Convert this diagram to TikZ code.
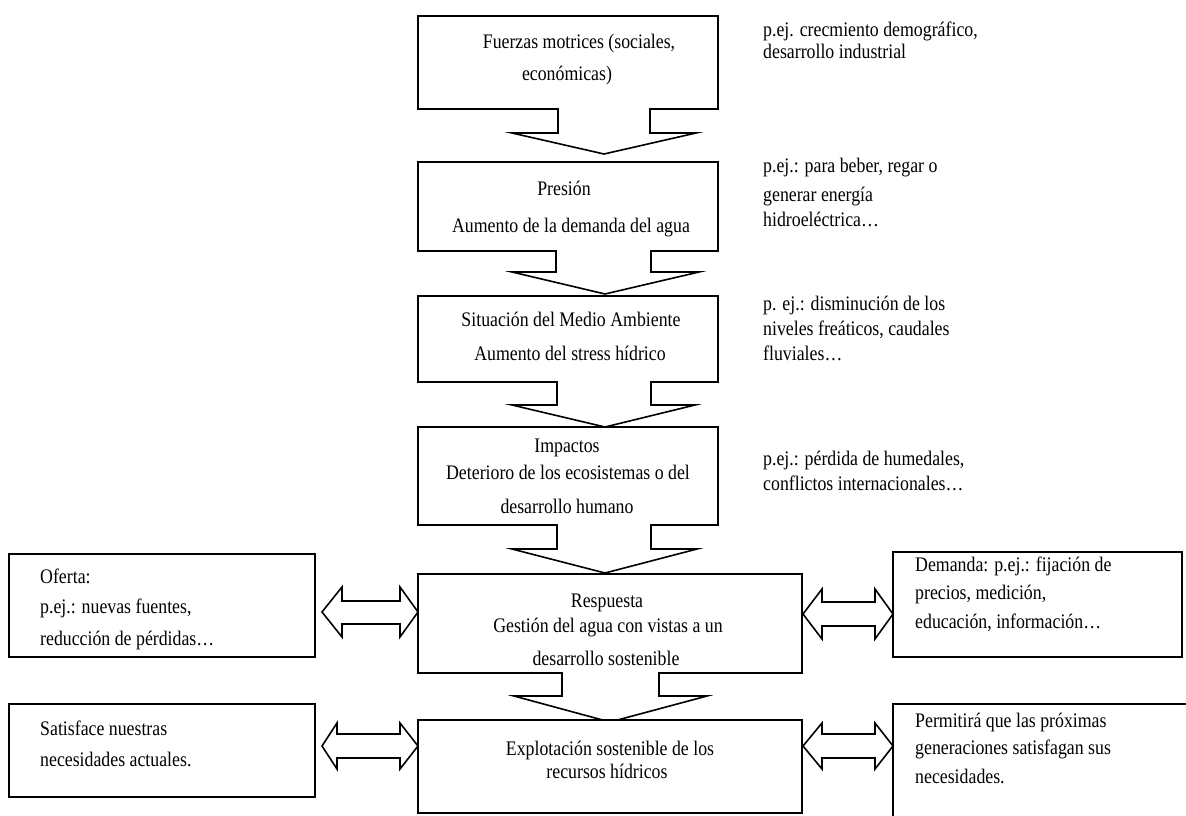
\documentclass[tikz,border=0pt]{standalone}
\usepackage{fontspec}
\setmainfont[FakeStretch=0.86]{Liberation Serif}
\begin{document}
\begin{tikzpicture}[x=1pt,y=-1pt,
  box/.style={draw=black,line width=1.6pt,fill=white,line join=miter},
  dbl/.style={draw=black,line width=1.6pt,fill=white,line join=miter},
  txt/.style={font=\fontsize{20.7}{22}\selectfont,inner sep=0pt,anchor=base},
  ltxt/.style={font=\fontsize{20.7}{22}\selectfont,inner sep=0pt,anchor=base west}]
\useasboundingbox (0,0) rectangle (1186,815);
\begin{scope}
\clip (0,0) rectangle (1186,815);
% box 1
\draw[box] (418,16) -- (718,16) -- (718,109) -- (650,109) -- (650,133) -- (696,133) -- (604,154)
  -- (512,133) -- (558,133) -- (558,109) -- (418,109) -- cycle;
% box 2
\draw[box] (418,162) -- (718,162) -- (718,251) -- (651,251) -- (651,272) -- (699,272) -- (605,294)
  -- (512,272) -- (556,272) -- (556,251) -- (418,251) -- cycle;
% box 3
\draw[box] (418,296) -- (718,296) -- (718,382) -- (651,382) -- (651,405) -- (695,405) -- (605,427)
  -- (512,405) -- (557,405) -- (557,382) -- (418,382) -- cycle;
% box 4
\draw[box] (418,427) -- (718,427) -- (718,525) -- (651,525) -- (651,549) -- (697,549) -- (605,573)
  -- (512,549) -- (557,549) -- (557,525) -- (418,525) -- cycle;
% box 5
\draw[box] (418,574) -- (802,574) -- (802,673) -- (659,673) -- (659,696) -- (707,696) -- (610,722)
  -- (514,696) -- (562,696) -- (562,673) -- (418,673) -- cycle;
% box 6
\draw[box] (418,720) rectangle (802,813);
% side boxes
\draw[box] (9,554) rectangle (315,657);
\draw[box] (893,552) rectangle (1182,657);
\draw[box] (9,704) rectangle (315,797);
\draw[box] (893,704) rectangle (1200,830);
% double arrows
\draw[dbl] (322,612) -- (342,587) -- (342,601) -- (400,601) -- (400,587) -- (418,612)
  -- (400,637) -- (400,624) -- (342,624) -- (342,637) -- cycle;
\draw[dbl] (803,614) -- (822,589) -- (822,602) -- (875,602) -- (875,589) -- (893,614)
  -- (875,639) -- (875,626) -- (822,626) -- (822,639) -- cycle;
\draw[dbl] (322,746) -- (337,723) -- (337,734) -- (400,734) -- (400,723) -- (418,746)
  -- (400,769) -- (400,758) -- (337,758) -- (337,769) -- cycle;
\draw[dbl] (803,746) -- (822,723) -- (822,734) -- (875,734) -- (875,723) -- (893,746)
  -- (875,769) -- (875,758) -- (822,758) -- (822,769) -- cycle;
\end{scope}
% center texts
\node[txt] (b1a) at (579,48) {Fuerzas motrices (sociales,};
\node[txt] (b1b) at (567,80) {económicas)};
\node[txt] (b2a) at (564,195) {Presión};
\node[txt] (b2b) at (571,232) {Aumento de la demanda del agua};
\node[txt] (b3a) at (571,326) {Situación del Medio Ambiente};
\node[txt] (b3b) at (570,360) {Aumento del stress hídrico};
\node[txt] (b4a) at (567,452) {Impactos};
\node[txt] (b4b) at (568,479) {Deterioro de los ecosistemas o del};
\node[txt] (b4c) at (567,513) {desarrollo humano};
\node[txt] (b5a) at (607,607) {Respuesta};
\node[txt] (b5b) at (608,632) {Gestión del agua con vistas a un};
\node[txt] (b5c) at (606,665) {desarrollo sostenible};
\node[txt] (b6a) at (610,755) {Explotación sostenible de los};
\node[txt] (b6b) at (607,778) {recursos hídricos};
% right column
\node[ltxt] (r1a) at (763,36) {p.ej. crecmiento demográfico,};
\node[ltxt] (r1b) at (763,58) {desarrollo industrial};
\node[ltxt] (r2a) at (763,172) {p.ej.: para beber, regar o};
\node[ltxt] (r2b) at (763,201) {generar energía};
\node[ltxt] (r2c) at (763,226) {hidroeléctrica…};
\node[ltxt] (r3a) at (763,310) {p. ej.: disminución de los};
\node[ltxt] (r3b) at (763,335) {niveles freáticos, caudales};
\node[ltxt] (r3c) at (763,360) {fluviales…};
\node[ltxt] (r4a) at (763,465) {p.ej.: pérdida de humedales,};
\node[ltxt] (r4b) at (763,490) {conflictos internacionales…};
% side boxes text
\node[ltxt] (l5a) at (40,583) {Oferta:};
\node[ltxt] (l5b) at (40,613) {p.ej.: nuevas fuentes,};
\node[ltxt] (l5c) at (40,645) {reducción de pérdidas…};
\node[ltxt] (s5a) at (915,571) {Demanda: p.ej.: fijación de};
\node[ltxt] (s5b) at (915,599) {precios, medición,};
\node[ltxt] (s5c) at (915,628) {educación, información…};
\node[ltxt] (l6a) at (40,735) {Satisface nuestras};
\node[ltxt] (l6b) at (40,766) {necesidades actuales.};
\node[ltxt] (s6a) at (915,727) {Permitirá que las próximas};
\node[ltxt] (s6b) at (915,754) {generaciones satisfagan sus};
\node[ltxt] (s6c) at (915,783) {necesidades.};
\end{tikzpicture}
\end{document}
